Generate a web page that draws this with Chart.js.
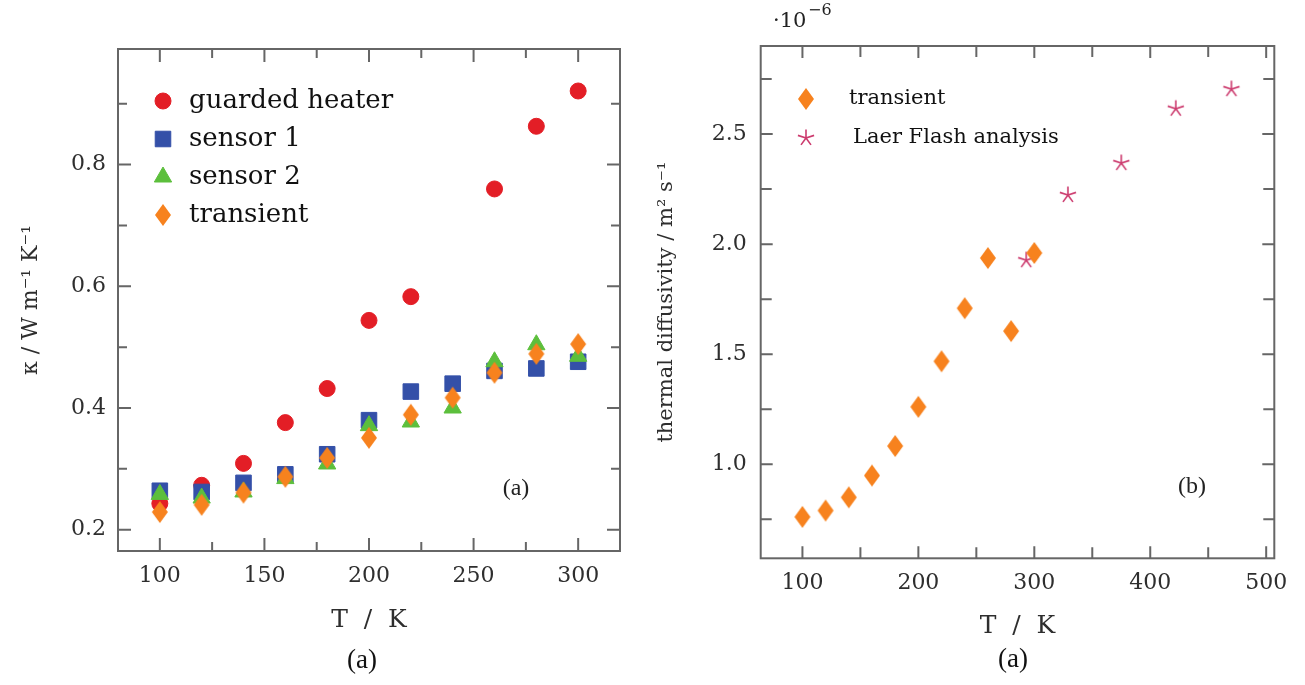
<!DOCTYPE html>
<html>
<head>
<meta charset="utf-8">
<script src="https://cdn.jsdelivr.net/npm/chart.js@4.4.1/dist/chart.umd.min.js"></script>
<style>
  body { margin: 0; background: #fff; }
  #wrap { position: relative; width: 1305px; height: 685px; }
  #leftChart { position: absolute; left: 0; top: 0; }
  #rightChart { position: absolute; left: 640px; top: 0; }
</style>
</head>
<body>
<div id="wrap">
  <canvas id="leftChart" width="640" height="685"></canvas>
  <canvas id="rightChart" width="665" height="685"></canvas>
</div>
<script>
// ---- data, panel (a): thermal conductivity ----
const temps = [100, 120, 140, 160, 180, 200, 220, 240, 260, 280, 300];
const guardedHeater = [0.243, 0.273, 0.309, 0.376, 0.432, 0.544, 0.583, null, 0.760, 0.863, 0.921];
const sensor1 = [0.264, 0.262, 0.277, 0.291, 0.324, 0.380, 0.427, 0.440, 0.461, 0.465, 0.476];
const sensor2 = [0.258, 0.252, 0.262, 0.284, 0.308, 0.371, 0.377, 0.400, 0.476, 0.504, 0.485];
const transientK = [0.229, 0.241, 0.261, 0.287, 0.318, 0.351, 0.389, 0.417, 0.458, 0.489, 0.505];

// ---- data, panel (b): thermal diffusivity (x 1e-6 m^2/s) ----
const transientD = [0.761, 0.790, 0.850, 0.949, 1.083, 1.261, 1.468, 1.709, 1.937, 1.605, 1.960];
const flashT = [293, 329, 375, 422, 470];
const flashD = [1.927, 2.223, 2.368, 2.615, 2.704];

const RED = '#e31e26';
const BLUE = '#3450a8';
const GREEN = '#5cbf3c';
const ORANGE = '#f7821e';
const PINK = '#cc3b6e';
const INK = '#222';

Chart.defaults.font.family = 'DejaVu Serif';
Chart.defaults.color = INK;

function pts(xs, ys) {
  return xs.map((x, i) => ({ x: x, y: ys[i] })).filter(p => p.y !== null);
}

// orange diamond, a bit taller than wide
function makeDiamond() {
  const c = document.createElement('canvas');
  c.width = 18; c.height = 24;
  const g = c.getContext('2d');
  g.fillStyle = ORANGE;
  g.beginPath();
  g.moveTo(9, 1); g.lineTo(17, 12); g.lineTo(9, 23); g.lineTo(1, 12);
  g.closePath();
  g.fill();
  return c;
}

// five armed star like the pgfplots "star" mark
function makeStar() {
  const c = document.createElement('canvas');
  c.width = 20; c.height = 20;
  const g = c.getContext('2d');
  g.strokeStyle = PINK;
  g.lineWidth = 1.6;
  g.beginPath();
  for (let k = 0; k < 5; k++) {
    const a = -Math.PI / 2 + k * 2 * Math.PI / 5;
    g.moveTo(10, 10);
    g.lineTo(10 + 8.5 * Math.cos(a), 10 + 8.5 * Math.sin(a));
  }
  g.stroke();
  return c;
}

const diamond = makeDiamond();
const star = makeStar();

// box frame with inward ticks on all four sides
const frameTicks = {
  id: 'frameTicks',
  beforeDatasetsDraw(chart, args, o) {
    const { ctx, chartArea: a } = chart;
    const x = chart.scales.x, y = chart.scales.y;
    const isMajor = (v, m) => Math.abs(v / m - Math.round(v / m)) < 1e-6;
    ctx.save();
    ctx.strokeStyle = o.color;
    ctx.lineWidth = o.width;
    ctx.strokeRect(a.left, a.top, a.right - a.left, a.bottom - a.top);
    ctx.beginPath();
    for (let k = Math.ceil(x.min / o.xMinor); k <= Math.floor(x.max / o.xMinor); k++) {
      const v = k * o.xMinor;
      const p = x.getPixelForValue(v);
      const len = isMajor(v, o.xMajor) ? o.major : o.minor;
      ctx.moveTo(p, a.bottom); ctx.lineTo(p, a.bottom - len);
      ctx.moveTo(p, a.top); ctx.lineTo(p, a.top + len);
    }
    for (let k = Math.ceil(y.min / o.yMinor - 1e-9); k <= Math.floor(y.max / o.yMinor + 1e-9); k++) {
      const v = k * o.yMinor;
      const p = y.getPixelForValue(v);
      const len = isMajor(v, o.yMajor) ? o.major : o.minor;
      ctx.moveTo(a.left, p); ctx.lineTo(a.left + len, p);
      ctx.moveTo(a.right, p); ctx.lineTo(a.right - len, p);
    }
    ctx.stroke();
    ctx.restore();
  }
};

// legend drawn inside the plot area
const legendInside = {
  id: 'legendInside',
  afterDatasetsDraw(chart, args, o) {
    const ctx = chart.ctx;
    ctx.save();
    chart.data.datasets.forEach((ds, i) => {
      const y = o.y + i * o.gap;
      ctx.fillStyle = ds.backgroundColor;
      ctx.strokeStyle = ds.borderColor;
      ctx.lineWidth = ds.borderWidth;
      Chart.helpers.drawPoint(ctx, {
        pointStyle: ds.pointStyle, radius: ds.pointRadius, rotation: 0, borderWidth: ds.borderWidth
      }, o.x, y);
      ctx.fillStyle = o.color;
      ctx.font = o.font;
      ctx.textAlign = 'left';
      ctx.textBaseline = 'middle';
      ctx.fillText(ds.label, o.textX + (o.shift ? o.shift[i] : 0), y);
    });
    ctx.restore();
  }
};

// loose text: panel tags and the 10^-6 multiplier
const freeText = {
  id: 'freeText',
  afterDraw(chart, args, o) {
    const ctx = chart.ctx;
    ctx.save();
    ctx.textBaseline = 'middle';
    o.items.forEach(t => {
      ctx.font = t.font;
      ctx.textAlign = t.align || 'center';
      ctx.fillStyle = t.color || INK;
      ctx.fillText(t.text, t.x, t.y);
    });
    ctx.restore();
  }
};

function axis(opts) {
  return {
    type: 'linear',
    min: opts.min,
    max: opts.max,
    afterFit: opts.fit,
    grid: { display: false, drawTicks: false },
    border: { display: false },
    ticks: {
      stepSize: opts.step,
      includeBounds: false,
      padding: opts.pad,
      color: '#2e2e2e',
      maxRotation: 0,
      font: { size: 22 },
      callback: opts.fmt
    },
    title: {
      display: true,
      text: opts.title,
      color: '#2e2e2e',
      font: { size: opts.titleSize },
      padding: opts.titlePad
    }
  };
}

new Chart(document.getElementById('leftChart'), {
  type: 'scatter',
  data: {
    datasets: [
      { label: 'guarded heater', data: pts(temps, guardedHeater), pointStyle: 'circle', pointRadius: 8,
        backgroundColor: RED, borderColor: RED, borderWidth: 1, order: 4 },
      { label: 'sensor 1', data: pts(temps, sensor1), pointStyle: 'rect', pointRadius: 11,
        backgroundColor: BLUE, borderColor: BLUE, borderWidth: 1, order: 3 },
      { label: 'sensor 2', data: pts(temps, sensor2), pointStyle: 'triangle', pointRadius: 10,
        backgroundColor: GREEN, borderColor: GREEN, borderWidth: 1, order: 2 },
      { label: 'transient', data: pts(temps, transientK), pointStyle: diamond, pointRadius: 11,
        backgroundColor: ORANGE, borderColor: ORANGE, borderWidth: 1, order: 1 }
    ]
  },
  options: {
    responsive: false,
    animation: false,
    events: [],
    layout: { padding: { left: 0, top: 49, right: 20, bottom: 0 } },
    scales: {
      x: axis({ min: 80, max: 320, step: 50, pad: 12, fit: s => { s.height = 134; },
        title: 'T  /  K', titleSize: 25, titlePad: { top: 0, bottom: 50 } }),
      y: axis({ min: 0.165, max: 0.99, step: 0.2, pad: 12, fit: s => { s.width = 118; },
        fmt: v => v.toFixed(1),
        title: 'κ / W m⁻¹ K⁻¹', titleSize: 22, titlePad: { top: 18, bottom: 0 } })
    },
    plugins: {
      legend: { display: false },
      tooltip: { enabled: false },
      frameTicks: { color: '#666', width: 2, major: 13, minor: 9,
        xMajor: 50, xMinor: 25, yMajor: 0.2, yMinor: 0.1 },
      legendInside: { x: 163, y: 101, gap: 38, textX: 189, font: '26px DejaVu Serif', color: '#111' },
      freeText: { items: [
        { text: '(a)', x: 516, y: 489, font: '24px Liberation Serif' },
        { text: '(a)', x: 362, y: 661, font: '27px Liberation Serif', color: '#111' }
      ] }
    }
  },
  plugins: [frameTicks, legendInside, freeText]
});

new Chart(document.getElementById('rightChart'), {
  type: 'scatter',
  data: {
    datasets: [
      { label: 'transient', data: pts(temps, transientD), pointStyle: diamond, pointRadius: 11,
        backgroundColor: ORANGE, borderColor: ORANGE, borderWidth: 1, order: 1 },
      { label: 'Laer Flash analysis', data: pts(flashT, flashD), pointStyle: star, pointRadius: 10,
        backgroundColor: PINK, borderColor: PINK, borderWidth: 1, order: 2 }
    ]
  },
  options: {
    responsive: false,
    animation: false,
    events: [],
    layout: { padding: { left: 0, top: 46, right: 30.7, bottom: 0 } },
    scales: {
      x: axis({ min: 64, max: 507, step: 100, pad: 12, fit: s => { s.height = 126.7; },
        title: 'T  /  K', titleSize: 25, titlePad: { top: 0, bottom: 44 } }),
      y: axis({ min: 0.573, max: 2.90, step: 0.5, pad: 14, fit: s => { s.width = 120.7; },
        fmt: v => v.toFixed(1),
        title: 'thermal diffusivity / m² s⁻¹', titleSize: 21, titlePad: { top: 14, bottom: 0 } })
    },
    plugins: {
      legend: { display: false },
      tooltip: { enabled: false },
      frameTicks: { color: '#666', width: 2, major: 12, minor: 11,
        xMajor: 100, xMinor: 50, yMajor: 0.5, yMinor: 0.25 },
      legendInside: { x: 166, y: 99, gap: 39, textX: 209, shift: [0, 4], font: '21px DejaVu Serif', color: '#111' },
      freeText: { items: [
        { text: '·10', x: 133, y: 22, font: '21px DejaVu Serif', align: 'left' },
        { text: '−6', x: 168, y: 11, font: '16px DejaVu Serif', align: 'left' },
        { text: '(b)', x: 552, y: 487, font: '24px Liberation Serif' },
        { text: '(a)', x: 373, y: 660, font: '27px Liberation Serif', color: '#111' }
      ] }
    }
  },
  plugins: [frameTicks, legendInside, freeText]
});
</script>
</body>
</html>
